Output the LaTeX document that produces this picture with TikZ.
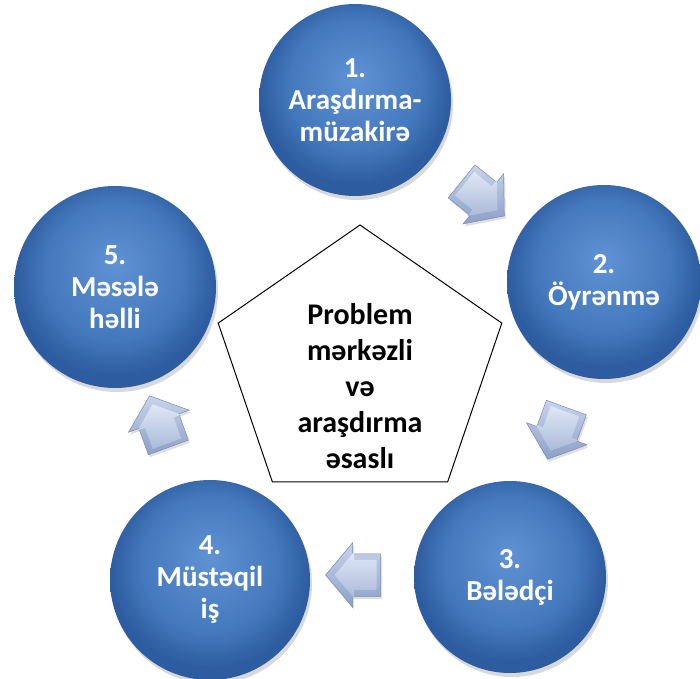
\documentclass[tikz,border=0pt]{standalone}
\usepackage{fontspec}
\setmainfont{Carlito}
\usetikzlibrary{shapes.geometric,shapes.arrows,shadows}
\definecolor{bA}{RGB}{96,146,212}
\definecolor{bB}{RGB}{68,121,189}
\definecolor{bC}{RGB}{46,92,160}
\pgfdeclareradialshading{ballblue}{\pgfpoint{0bp}{6bp}}{color(0bp)=(bA); color(17bp)=(bB); color(25bp)=(bC); color(50bp)=(bC)}
\definecolor{arA}{RGB}{200,212,236}
\definecolor{arB}{RGB}{140,160,198}
\definecolor{arE}{RGB}{120,140,180}
\definecolor{faA}{RGB}{224,231,246}
\definecolor{faB}{RGB}{170,186,218}
\begin{document}
\begin{tikzpicture}[x=1pt,y=1pt,
  ball/.style={circle, shading=ballblue, minimum size=#1, inner sep=0pt,
    text=white, font=\bfseries\fontsize{29}{32}\selectfont, align=center,
    drop shadow={opacity=0.3, shadow xshift=2pt, shadow yshift=-4pt}},
  blk/.style={single arrow, minimum height=55pt,
    single arrow head extend=11pt, single arrow tip angle=100, inner sep=0pt,
    top color=arA, bottom color=arB, draw=arE, line width=0.5pt, rotate=#1,
    drop shadow={opacity=0.25, shadow xshift=1.5pt, shadow yshift=-2.5pt}},
  blkface/.style={single arrow, minimum height=42pt,
    single arrow head extend=8pt, single arrow tip angle=100, inner sep=0pt,
    top color=faA, bottom color=faB, rotate=#1},
  pentagon/.style={regular polygon, regular polygon sides=5, minimum size=284pt,
    inner sep=0pt, draw=black, line width=1pt, xscale=1.05},
  ctext/.style={font=\bfseries\fontsize{30}{36}\selectfont, align=center, text=black}
]
\useasboundingbox (0,0) rectangle (700,678);

\node[pentagon] (pent) at (360,311) {};
\node[ctext] (ctr) at (360,292) {Problem\\mərkəzli\\və\\araşdırma\\əsaslı};

\node[ball=192pt] (c1) at (355,578) {1.\\Araşdırma-\\müzakirə};
\node[ball=194pt] (c2) at (604,396) {2.\\Öyrənmə};
\node[ball=192pt] (c3) at (510,101) {3.\\Bələdçi};
\node[ball=200pt] (c4) at (210,98) {4.\\Müstəqil\\iş};
\node[ball=202pt] (c5) at (115,391) {5.\\Məsələ\\həlli};

\node[blk=-39] (a1) at (476,485) {\rule{0pt}{42pt}};
\node[blkface=-39] (f1) at (a1.center) {\rule{0pt}{30pt}};
\node[blk=-110] (a2) at (560,253) {\rule{0pt}{42pt}};
\node[blkface=-110] (f2) at (a2.center) {\rule{0pt}{30pt}};
\node[blk=180] (a3) at (362,103) {\rule{0pt}{42pt}};
\node[blkface=180] (f3) at (a3.center) {\rule{0pt}{30pt}};
\node[blk=110] (a4) at (162,248) {\rule{0pt}{42pt}};
\node[blkface=110] (f4) at (a4.center) {\rule{0pt}{30pt}};
\end{tikzpicture}
\end{document}
